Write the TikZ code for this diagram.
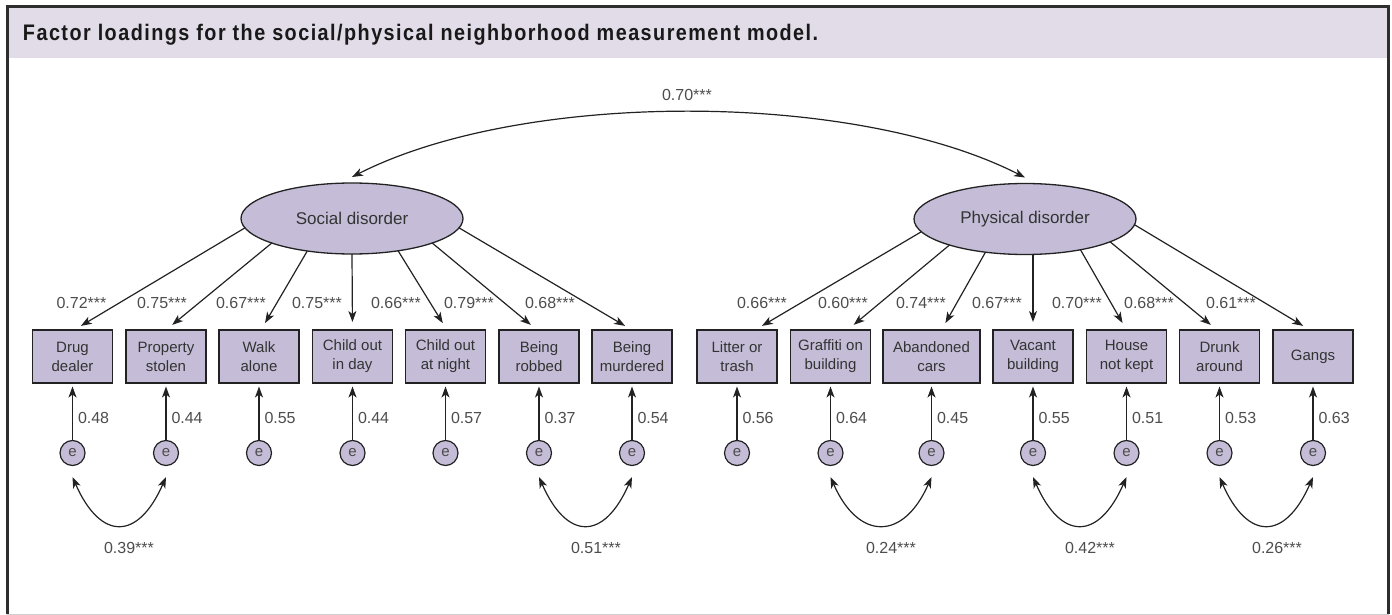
\documentclass[tikz,border=0pt]{standalone}
\usepackage{fontspec}
\setmainfont{Liberation Sans}
\newfontfamily\titlefont[FakeStretch=0.88,LetterSpace=6.5]{Liberation Sans}
\usetikzlibrary{arrows.meta,shapes.geometric}

\definecolor{boxfill}{HTML}{C5BDD7}
\definecolor{barfill}{HTML}{E1DCE8}
\definecolor{ink}{HTML}{222222}
\definecolor{numgrey}{HTML}{4D4D4D}
\definecolor{framegrey}{HTML}{2E2E2E}
\definecolor{rulegrey}{HTML}{CFCFCF}

\begin{document}
\begin{tikzpicture}[x=1pt,y=1pt,
  every node/.style={inner sep=0pt,outer sep=0pt},
  item/.style={draw=ink,line width=1.3pt,fill=boxfill,minimum width=80pt,
    minimum height=53pt,align=center,font=\fontsize{15}{19}\selectfont,text=black!80},
  latent/.style={ellipse,draw=ink,line width=1.3pt,fill=boxfill,minimum width=222pt,
    minimum height=71pt,font=\fontsize{17}{20}\selectfont,text=black!80},
  err/.style={circle,draw=ink,line width=1.2pt,fill=boxfill,minimum size=25pt,
    font=\fontsize{15}{16}\selectfont,text=black!70},
  load/.style={font=\fontsize{16}{18}\selectfont,text=numgrey},
  arr/.style={draw=ink,line width=1.2pt,-{Stealth[length=11pt,width=8pt,inset=3pt]}},
  dbl/.style={draw=ink,line width=1.2pt,
    {Stealth[length=11pt,width=8pt,inset=3pt]}-{Stealth[length=11pt,width=8pt,inset=3pt]}}
]
\useasboundingbox (0,0) rectangle (1392,-615);

% frame and title bar
\fill[barfill] (8.7,-8) rectangle (1387,-58);
\draw[rulegrey,line width=1pt] (7,-614) -- (1389,-614);
\draw[framegrey,line width=2.7pt] (7.3,-614) -- (7.3,-6.5) -- (1388.5,-6.5) -- (1388.5,-614);
\node[anchor=base west,font=\titlefont\bfseries\fontsize{22.5}{26}\selectfont,text=black!90]
  (title) at (23,-40.5) {Factor loadings for the social/physical neighborhood measurement model.};

% latent factors
\node[latent] (soc)  at (352,-218.5) {Social disorder};
\node[latent] (phys) at (1025,-219)  {Physical disorder};

% indicators
\node[item] (b1)  at (72.5,-356.5)  {Drug\\dealer};
\node[item] (b2)  at (166,-356.5)   {Property\\stolen};
\node[item] (b3)  at (259,-356.5)   {Walk\\alone};
\node[item] (b4)  at (352.5,-356.5) {Child out\\in day};
\node[item] (b5)  at (445.5,-356.5) {Child out\\at night};
\node[item] (b6)  at (539,-356.5)   {Being\\robbed};
\node[item] (b7)  at (632,-356.5)   {Being\\murdered};
\node[item] (b8)  at (737,-356.5)   {Litter or\\trash};
\node[item] (b9)  at (830.5,-356.5) {Graffiti on\\building};
\node[item,minimum width=97pt] (b10) at (931.5,-356.5) {Abandoned\\cars};
\node[item] (b11) at (1033,-356.5)  {Vacant\\building};
\node[item] (b12) at (1126.5,-356.5){House\\not kept};
\node[item] (b13) at (1219.5,-356.5){Drunk\\around};
\node[item] (b14) at (1313,-356.5)  {Gangs};

% error terms
\foreach \i/\x in {1/72.5,2/166,3/259,4/352.5,5/445.5,6/539,7/632,
                   8/737,9/830.5,10/931.5,11/1033,12/1126.5,13/1219.5,14/1313}
  \node[err] (e\i) at (\x,-453) {e};

% loadings
\draw[arr,shorten >=8pt] (soc.185) -- ([xshift=1.5pt]b1.north);
\draw[arr,shorten >=8pt] (soc.197) -- (b2.north);
\draw[arr,shorten >=8pt] (soc.216) -- ([xshift=2pt]b3.north);
\draw[arr,shorten >=8pt] (soc.270) -- (b4.north);
\draw[arr,shorten >=8pt] (soc.325) -- ([xshift=1.5pt]b5.north);
\draw[arr,shorten >=8pt] (soc.343) -- ([xshift=-2pt]b6.north);
\draw[arr,shorten >=8pt] (soc.355) -- (b7.north);

\draw[arr,shorten >=8pt] (phys.187) -- ([xshift=18pt]b8.north);
\draw[arr,shorten >=8pt] (phys.199) -- ([xshift=17pt]b9.north);
\draw[arr,shorten >=8pt] (phys.220) -- ([xshift=10pt]b10.north);
\draw[arr,shorten >=8pt] (phys.south -| b11.north) -- (b11.north);
\draw[arr,shorten >=8pt] (phys.331) -- (b12.north);
\draw[arr,shorten >=8pt] (phys.345) -- ([xshift=-2.5pt]b13.north);
\draw[arr,shorten >=8pt] (phys.357) -- ([xshift=-3pt]b14.north);

\node[load] (l1)  at (81.5,-302.5) {0.72***};
\node[load] (l2)  at (162,-302.5)  {0.75***};
\node[load] (l3)  at (241,-302.5)  {0.67***};
\node[load] (l4)  at (317,-302.5)  {0.75***};
\node[load] (l5)  at (396,-302.5)  {0.66***};
\node[load] (l6)  at (469,-302.5)  {0.79***};
\node[load] (l7)  at (550,-302.5)  {0.68***};
\node[load] (l8)  at (762,-302.5)  {0.66***};
\node[load] (l9)  at (843,-302.5)  {0.60***};
\node[load] (l10) at (921,-302.5)  {0.74***};
\node[load] (l11) at (997,-302.5)  {0.67***};
\node[load] (l12) at (1077,-302.5) {0.70***};
\node[load] (l13) at (1149,-302.5) {0.68***};
\node[load] (l14) at (1231,-302.5) {0.61***};

% error paths
\foreach \i in {1,...,14}
  \draw[arr,shorten >=3.5pt] (e\i) -- (b\i);

\foreach \i/\v in {1/0.48,2/0.44,3/0.55,4/0.44,5/0.57,6/0.37,7/0.54,
                   8/0.56,9/0.64,10/0.45,11/0.55,12/0.51,13/0.53,14/0.63}
  \node[load,anchor=west] (v\i) at ([xshift=5.5pt,yshift=35pt]e\i.center) {\v};

% factor covariance
\draw[dbl] ([yshift=6pt]soc.north) .. controls +(171,87) and +(-171,87) .. ([yshift=6pt]phys.north);
\node[load] (rf) at (687,-95) {0.70***};

% error covariances
\foreach \a/\b in {1/2,6/7,9/10,11/12,13/14}
  \draw[dbl] ([yshift=-11.5pt]e\a.south) .. controls +(28,-64) and +(-28,-64) .. ([yshift=-11.5pt]e\b.south);

\node[load] (c1) at (129,-548)  {0.39***};
\node[load] (c2) at (596,-548)  {0.51***};
\node[load] (c3) at (891,-548)  {0.24***};
\node[load] (c4) at (1090,-548) {0.42***};
\node[load] (c5) at (1277,-548) {0.26***};
\end{tikzpicture}
\end{document}
